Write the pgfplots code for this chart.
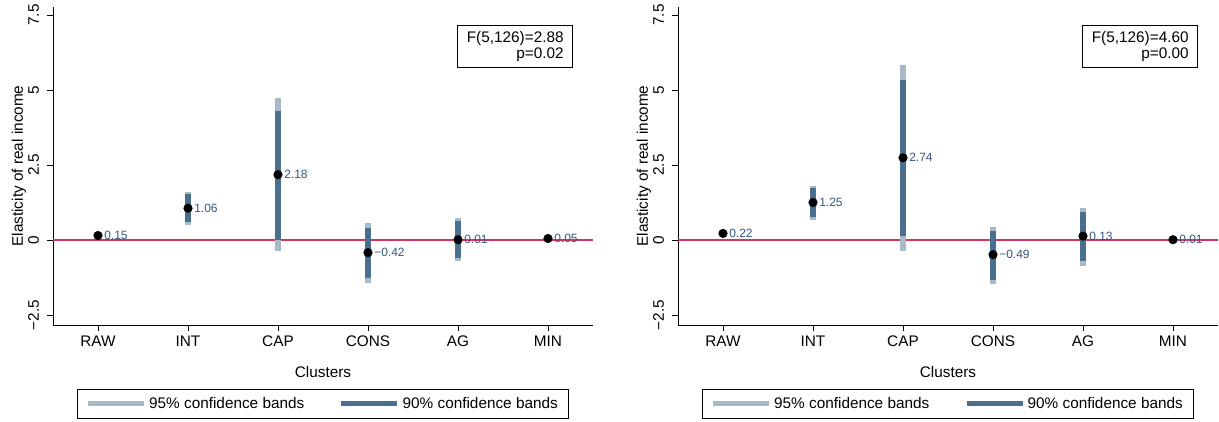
\documentclass[border=0pt]{standalone}
\usepackage{pgfplots}
\pgfplotsset{compat=1.18}
\usepackage{pgfplotstable}
\usepackage{fontspec}
\setmainfont{Liberation Sans}
\definecolor{c95}{RGB}{168,185,201}
\definecolor{c90}{RGB}{74,111,143}
\definecolor{zline}{RGB}{212,52,96}
\definecolor{lbl}{RGB}{52,86,124}

% x  y  lo95 hi95 lo90 hi90 label
\pgfplotstableread{
x y lo95 hi95 lo90 hi90 lab
1 0.15 0.04 0.26 0.06 0.24 0.15
2 1.06 0.51 1.61 0.60 1.52 1.06
3 2.18 -0.37 4.72 0.00 4.30 2.18
4 -0.42 -1.42 0.56 -1.27 0.40 −0.42
5 0.01 -0.71 0.73 -0.60 0.62 0.01
6 0.05 0.00 0.10 0.01 0.09 0.05
}\left

\pgfplotstableread{
x y lo95 hi95 lo90 hi90 lab
1 0.22 0.14 0.30 0.16 0.28 0.22
2 1.25 0.68 1.81 0.77 1.72 1.25
3 2.74 -0.38 5.84 0.12 5.33 2.74
4 -0.49 -1.46 0.45 -1.32 0.31 −0.49
5 0.13 -0.85 1.08 -0.70 0.95 0.13
6 0.01 -0.03 0.05 -0.02 0.04 0.01
}\right

\pgfplotsset{
  panel/.style={
    scale only axis,
    width=405pt, height=238.5pt,
    xmin=0.5, xmax=6.5, ymin=-2.833, ymax=7.767,
    axis x line*=bottom, axis y line*=left,
    tick align=outside,
    major tick length=4.5pt,
    tick style={black, line width=0.6pt},
    axis line style={black, line width=0.6pt},
    xtick={1,2,3,4,5,6},
    xticklabels={RAW,INT,CAP,CONS,AG,MIN},
    ytick={-2.5,0,2.5,5,7.5},
    yticklabels={−2.5,0,2.5,5,7.5},
    yticklabel shift=2.5pt,
    yticklabel style={rotate=90, anchor=south, font=\fontsize{11.5}{13}\selectfont},
    xticklabel style={font=\fontsize{11.5}{13}\selectfont},
    xlabel={Clusters},
    xlabel style={at={(axis description cs:0.5,-0.1478)}, anchor=center, font=\fontsize{11.5}{13}\selectfont},
    ylabel={Elasticity of real income},
    ylabel style={at={(axis description cs:-0.0556,0.5)}, anchor=base, font=\fontsize{11.5}{13}\selectfont},
    clip=false,
    legend style={at={(0.5,-0.2013)}, anchor=north, legend columns=2,
      draw=black, line width=0.6pt, font=\fontsize{11.5}{13}\selectfont,
      inner xsep=6pt, inner ysep=4pt,
      /tikz/every even column/.append style={column sep=24pt}},
    legend image code/.code={\draw[#1, line width=3.75pt] (0pt,0pt) -- (42pt,0pt);},
  },
  ci95/.style={only marks, mark=none, forget plot,
    error bars/.cd, y dir=both, y explicit, error mark=none,
    error bar style={c95, line width=4pt}},
  ci90/.style={only marks, mark=none, forget plot,
    error bars/.cd, y dir=both, y explicit, error mark=none,
    error bar style={c90, line width=4pt}},
}

\newcommand{\panel}[3]{%
  \addplot [zline, line width=1.1pt, forget plot] coordinates {(0.5,0) (6.5,0)};
  \addplot [ci95] table [x=x, y=y, y error plus expr=\thisrow{hi95}-\thisrow{y}, y error minus expr=\thisrow{y}-\thisrow{lo95}] {#1};
  \addplot [ci90] table [x=x, y=y, y error plus expr=\thisrow{hi90}-\thisrow{y}, y error minus expr=\thisrow{y}-\thisrow{lo90}] {#1};
  \addplot [only marks, mark=*, mark size=3.2pt, black, forget plot,
    point meta=explicit symbolic,
    nodes near coords,
    nodes near coords align={anchor=west},
    every node near coord/.append style={lbl, font=\fontsize{9}{10}\selectfont, xshift=3.5pt, inner sep=1pt}]
    table [x=x, y=y, meta=lab] {#1};
  \addlegendimage{c95}
  \addlegendentry{95\% confidence bands}
  \addlegendimage{c90}
  \addlegendentry{90\% confidence bands}
  \node [draw=black, line width=0.6pt, fill=white, align=right, anchor=north east, inner xsep=6.75pt, inner ysep=4.5pt,
    font=\fontsize{11.5}{12}\selectfont] at (axis description cs:0.963,0.943) {F(5,126)=#2\\p=#3};
}

\begin{document}
\begin{tikzpicture}
\path[use as bounding box] (0,0) rectangle (914.25pt,315.75pt);
\begin{axis}[panel, at={(39.75pt,72pt)}, anchor=south west]
\panel{\left}{2.88}{0.02}
\end{axis}
\begin{axis}[panel, at={(508.5pt,72pt)}, anchor=south west]
\panel{\right}{4.60}{0.00}
\end{axis}
\end{tikzpicture}
\end{document}
